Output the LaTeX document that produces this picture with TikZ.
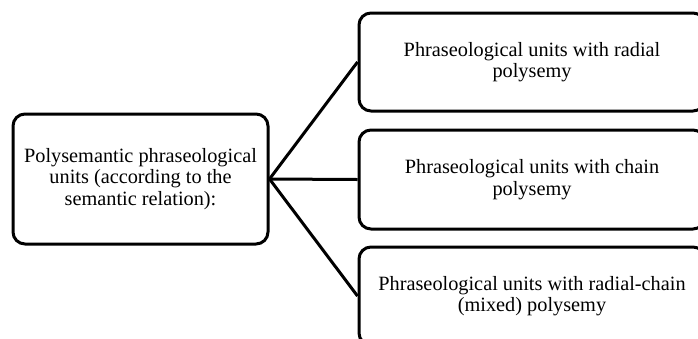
\documentclass[tikz,border=0pt]{standalone}
\usepackage{fontspec}
\setmainfont{Liberation Serif}
\begin{document}
\begin{tikzpicture}[x=1pt,y=-1pt,
  box/.style={draw=black, line width=3pt, rounded corners=12pt, fill=white,
    align=center, inner sep=0pt, font=\fontsize{20.3}{21.5}\selectfont},
  link/.style={draw=black, line width=3pt}]
  \useasboundingbox (0,0) rectangle (698,338);
  \clip (0,0) rectangle (698,338);
  \fill[white] (0,0) rectangle (698,338);
  % source box
  \node[box, minimum width=255pt, minimum height=130pt] (src) at (140.5,179)
    {Polysemantic phraseological\\units (according to the\\semantic relation):};
  % three kinds of polysemy
  \node[box, minimum width=346pt, minimum height=98pt] (radial) at (532,62)
    {Phraseological units with radial\\polysemy};
  \node[box, minimum width=346pt, minimum height=99pt] (chain) at (532,179.5)
    {Phraseological units with chain\\polysemy};
  \node[box, minimum width=346pt, minimum height=98pt] (mixed) at (532,296)
    {Phraseological units with radial-chain\\(mixed) polysemy};
  % connectors
  \draw[link] (src.east) -- (radial.west);
  \draw[link] (src.east) -- (chain.west);
  \draw[link] (src.east) -- (mixed.west);
\end{tikzpicture}
\end{document}
